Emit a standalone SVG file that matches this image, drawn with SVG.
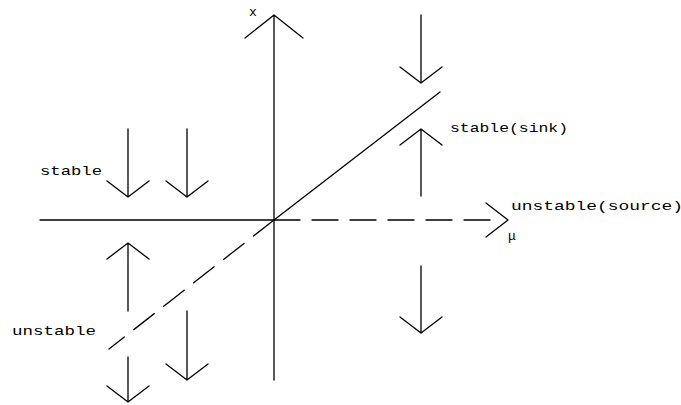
<svg xmlns="http://www.w3.org/2000/svg" width="681" height="405" viewBox="0 0 681 405">
<style>
.l{stroke:#000;stroke-width:1.3;fill:none;stroke-linecap:round;stroke-linejoin:round}
.d{stroke-dasharray:26 12}
text{font-family:"Liberation Mono","DejaVu Sans Mono",monospace;font-size:13px;fill:#000}
</style>
<rect width="681" height="405" fill="#fff"/>
<g id="connectors">
<!-- axes -->
<g id="x-axis">
<path class="l" d="M274 380 V15 M245 38 L274 15 L303 38"/>
</g>
<g id="mu-axis">
<path class="l" d="M40 220 H274"/>
<path class="l d" d="M274 220 H500"/>
<path class="l" d="M486 203 L508 220 L486 237"/>
</g>
<g id="branch">
<path class="l" d="M274 220 L440 92"/>
<path class="l d" d="M274 220 L109 349"/>
</g>
<!-- flow arrows -->
<g id="arrows">
<path class="l" d="M421 15 V83 M400 67 L421 83 L442 67"/>
<path class="l" d="M421 196 V129 M400 145 L421 129 L442 145"/>
<path class="l" d="M421 266 V333 M400 317 L421 333 L442 317"/>
<path class="l" d="M128 129 V197 M107 181 L128 197 L149 181"/>
<path class="l" d="M187 129 V197 M166 181 L187 197 L208 181"/>
<path class="l" d="M128 311 V243 M107 259 L128 243 L149 259"/>
<path class="l" d="M128 357 V402 M107 386 L128 402 L149 386"/>
<path class="l" d="M187 311 V380 M166 364 L187 380 L208 364"/>
</g>
</g>
<g id="labels">
<text x="249" y="16">x</text>
<text x="40" y="175" textLength="62" lengthAdjust="spacingAndGlyphs">stable</text>
<text x="12" y="335" textLength="84" lengthAdjust="spacingAndGlyphs">unstable</text>
<text x="450" y="132" textLength="118" lengthAdjust="spacingAndGlyphs">stable(sink)</text>
<text x="511" y="210" textLength="172" lengthAdjust="spacingAndGlyphs">unstable(source)</text>
<text x="508" y="240">μ</text>
</g>
</svg>
